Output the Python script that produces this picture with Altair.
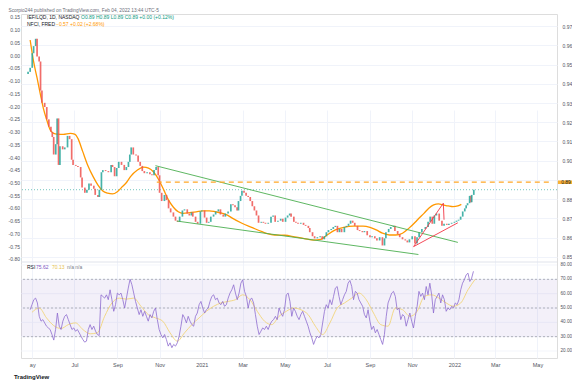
import altair as alt
import pandas as pd

W, H, TOP = 536, 344, 248
FONT = "Liberation Sans"

# ---------------- data ----------------
candle_dates = [
    "2020-04-25", "2020-04-28", "2020-05-01", "2020-05-03", "2020-05-06", "2020-05-08", "2020-05-11", "2020-05-13", "2020-05-15", "2020-05-19",
    "2020-05-22", "2020-05-25", "2020-05-28", "2020-05-30", "2020-06-01", "2020-06-04", "2020-06-06", "2020-06-08", "2020-06-10", "2020-06-14",
    "2020-06-17", "2020-06-21", "2020-06-24", "2020-06-27", "2020-06-29", "2020-07-03", "2020-07-06", "2020-07-10", "2020-07-12", "2020-07-16",
    "2020-07-19", "2020-07-22", "2020-07-25", "2020-07-29", "2020-07-31", "2020-08-04", "2020-08-06", "2020-08-09", "2020-08-11", "2020-08-15",
    "2020-08-19", "2020-08-23", "2020-08-25", "2020-08-28", "2020-08-31", "2020-09-03", "2020-09-07", "2020-09-11", "2020-09-14", "2020-09-17",
    "2020-09-19", "2020-09-21", "2020-09-24", "2020-09-28", "2020-10-01", "2020-10-04", "2020-10-07", "2020-10-10", "2020-10-14", "2020-10-18",
    "2020-10-21", "2020-10-24", "2020-10-27", "2020-10-30", "2020-11-01", "2020-11-04", "2020-11-08", "2020-11-11", "2020-11-14", "2020-11-17",
    "2020-11-21", "2020-11-24", "2020-11-27", "2020-11-30", "2020-12-04", "2020-12-07", "2020-12-11", "2020-12-14", "2020-12-17", "2020-12-19",
    "2020-12-23", "2020-12-26", "2020-12-30", "2021-01-01", "2021-01-05", "2021-01-08", "2021-01-11", "2021-01-14", "2021-01-18", "2021-01-21",
    "2021-01-25", "2021-01-28", "2021-02-01", "2021-02-04", "2021-02-08", "2021-02-12", "2021-02-15", "2021-02-18", "2021-02-21", "2021-02-23",
    "2021-02-26", "2021-02-28", "2021-03-03", "2021-03-06", "2021-03-09", "2021-03-12", "2021-03-15", "2021-03-18", "2021-03-21", "2021-03-24",
    "2021-03-28", "2021-03-31", "2021-04-03", "2021-04-07", "2021-04-11", "2021-04-14", "2021-04-17", "2021-04-21", "2021-04-25", "2021-04-28",
    "2021-05-02", "2021-05-05", "2021-05-08", "2021-05-10", "2021-05-14", "2021-05-17", "2021-05-20", "2021-05-24", "2021-05-28", "2021-05-31",
    "2021-06-04", "2021-06-06", "2021-06-10", "2021-06-13", "2021-06-17", "2021-06-21", "2021-06-24", "2021-06-27", "2021-06-30", "2021-07-03",
    "2021-07-07", "2021-07-10", "2021-07-13", "2021-07-16", "2021-07-19", "2021-07-22", "2021-07-26", "2021-07-29", "2021-08-01", "2021-08-04",
    "2021-08-07", "2021-08-10", "2021-08-14", "2021-08-17", "2021-08-21", "2021-08-24", "2021-08-28", "2021-09-01", "2021-09-04", "2021-09-08",
    "2021-09-11", "2021-09-15", "2021-09-19", "2021-09-22", "2021-09-24", "2021-09-28", "2021-10-01", "2021-10-05", "2021-10-07", "2021-10-11",
    "2021-10-14", "2021-10-18", "2021-10-22", "2021-10-25", "2021-10-28", "2021-11-01", "2021-11-05", "2021-11-08", "2021-11-11", "2021-11-15",
    "2021-11-20", "2021-11-24", "2021-11-27", "2021-11-30", "2021-12-03", "2021-12-06", "2021-12-10", "2021-12-14", "2021-12-17", "2021-12-21",
    "2021-12-24", "2021-12-28", "2022-01-01", "2022-01-04", "2022-01-07", "2022-01-10", "2022-01-13", "2022-01-16", "2022-01-18", "2022-01-20",
    "2022-01-23", "2022-01-25", "2022-01-26", "2022-01-29",
]
candle_close = [
    0.9462, 0.9483, 0.9559, 0.9596, 0.9634, 0.9542, 0.9516, 0.9365, 0.9301, 0.9279,
    0.9215, 0.9177, 0.9150, 0.9123, 0.9032, 0.9086, 0.9220, 0.8978, 0.9075, 0.9059,
    0.9069, 0.9129, 0.9112, 0.9005, 0.8978, 0.8973, 0.8967, 0.8913, 0.8860, 0.8833,
    0.8849, 0.8881, 0.8870, 0.8854, 0.8822, 0.8811, 0.8849, 0.8940, 0.8951, 0.8946,
    0.8940, 0.8978, 0.8967, 0.8919, 0.8962, 0.8994, 0.8978, 0.8951, 0.8967, 0.8994,
    0.9032, 0.9069, 0.9032, 0.9027, 0.8994, 0.8973, 0.8946, 0.8935, 0.8940, 0.8930,
    0.8924, 0.8951, 0.8967, 0.8924, 0.8833, 0.8790, 0.8822, 0.8795, 0.8752, 0.8731,
    0.8709, 0.8688, 0.8682, 0.8709, 0.8741, 0.8747, 0.8725, 0.8715, 0.8731, 0.8709,
    0.8682, 0.8672, 0.8736, 0.8741, 0.8704, 0.8677, 0.8682, 0.8709, 0.8720, 0.8736,
    0.8747, 0.8720, 0.8709, 0.8725, 0.8736, 0.8774, 0.8768, 0.8758, 0.8741, 0.8790,
    0.8817, 0.8844, 0.8833, 0.8817, 0.8811, 0.8790, 0.8763, 0.8741, 0.8715, 0.8677,
    0.8682, 0.8677, 0.8672, 0.8677, 0.8709, 0.8715, 0.8682, 0.8688, 0.8698, 0.8682,
    0.8704, 0.8715, 0.8725, 0.8709, 0.8682, 0.8677, 0.8672, 0.8677, 0.8666, 0.8661,
    0.8650, 0.8628, 0.8607, 0.8596, 0.8602, 0.8607, 0.8591, 0.8607, 0.8628, 0.8639,
    0.8645, 0.8655, 0.8661, 0.8628, 0.8645, 0.8628, 0.8655, 0.8661, 0.8672, 0.8688,
    0.8677, 0.8661, 0.8639, 0.8634, 0.8628, 0.8634, 0.8612, 0.8602, 0.8607, 0.8596,
    0.8585, 0.8602, 0.8559, 0.8596, 0.8628, 0.8645, 0.8655, 0.8661, 0.8634, 0.8618,
    0.8602, 0.8591, 0.8585, 0.8575, 0.8591, 0.8607, 0.8569, 0.8602, 0.8628, 0.8645,
    0.8655, 0.8682, 0.8709, 0.8672, 0.8715, 0.8725, 0.8688, 0.8661, 0.8672, 0.8666,
    0.8672, 0.8677, 0.8682, 0.8688, 0.8693, 0.8709, 0.8736, 0.8752, 0.8768, 0.8779,
    0.8817, 0.8784, 0.8822, 0.8849,
]
first_open = 0.9451

nfci_dates = [
    "2020-04-28", "2020-05-03", "2020-05-08", "2020-05-13", "2020-05-17", "2020-05-22", "2020-05-27", "2020-06-01",
    "2020-06-06", "2020-06-15", "2020-06-25", "2020-07-02", "2020-07-06", "2020-07-13", "2020-07-20", "2020-07-28",
    "2020-08-04", "2020-08-11", "2020-08-18", "2020-08-25", "2020-09-01", "2020-09-08", "2020-09-15", "2020-09-20",
    "2020-09-30", "2020-10-09", "2020-10-16", "2020-10-23", "2020-10-31", "2020-11-07", "2020-11-14", "2020-11-21",
    "2020-11-28", "2020-12-05", "2020-12-15", "2020-12-24", "2021-01-02", "2021-01-12", "2021-01-21", "2021-01-31",
    "2021-02-07", "2021-02-14", "2021-02-28", "2021-03-14", "2021-03-29", "2021-04-07", "2021-04-16", "2021-05-01",
    "2021-05-15", "2021-05-29", "2021-06-12", "2021-06-22", "2021-07-01", "2021-07-13", "2021-07-25", "2021-08-08",
    "2021-08-22", "2021-09-01", "2021-09-10", "2021-09-19", "2021-09-29", "2021-10-08", "2021-10-18", "2021-10-27",
    "2021-11-06", "2021-11-10", "2021-11-18", "2021-11-25", "2021-12-02", "2021-12-09", "2021-12-16", "2021-12-23",
    "2021-12-30", "2022-01-06", "2022-01-11",
]
nfci_values = [
    0.059, -0.026, -0.090, -0.157, -0.208, -0.255, -0.294, -0.307,
    -0.310, -0.311, -0.307, -0.311, -0.327, -0.379, -0.431, -0.477,
    -0.510, -0.533, -0.542, -0.545, -0.536, -0.517, -0.497, -0.477,
    -0.451, -0.440, -0.444, -0.458, -0.490, -0.529, -0.569, -0.597,
    -0.615, -0.621, -0.618, -0.615, -0.611, -0.611, -0.615, -0.621,
    -0.628, -0.640, -0.660, -0.676, -0.693, -0.702, -0.706, -0.707,
    -0.713, -0.720, -0.726, -0.723, -0.706, -0.686, -0.676, -0.671,
    -0.671, -0.676, -0.686, -0.699, -0.706, -0.706, -0.699, -0.680,
    -0.654, -0.642, -0.621, -0.601, -0.588, -0.584, -0.588, -0.592,
    -0.595, -0.592, -0.586,
]

rsi_start, rsi_step = "2020-04-28", "63h"
rsi_values = [
    48.8, 52.3, 55.8, 56.9, 53.5, 44.2, 40.8, 41.9, 39.6, 37.3, 36.1, 35.0, 31.5, 27.6, 35.0, 46.5, 37.3, 35.0, 40.8, 44.2,
    45.4, 41.9, 38.4, 35.0, 36.1, 33.8, 35.0, 32.7, 30.3, 28.0, 26.2, 26.9, 35.0, 38.4, 35.0, 37.3, 33.8, 31.5, 30.8, 59.2,
    58.1, 56.9, 59.2, 55.8, 62.7, 55.8, 47.7, 52.3, 60.4, 59.2, 60.4, 55.8, 50.0, 56.9, 63.9, 70.1, 66.2, 60.4, 54.6, 50.0,
    45.4, 48.8, 44.2, 47.7, 44.2, 40.8, 45.4, 43.1, 47.7, 50.0, 41.9, 35.0, 31.5, 29.2, 31.5, 28.0, 23.4, 25.7, 22.3, 24.6,
    23.4, 25.7, 30.3, 37.3, 45.4, 43.1, 39.6, 44.2, 40.8, 38.4, 37.3, 44.2, 46.5, 52.3, 54.6, 50.0, 46.5, 48.8, 50.0, 54.6,
    58.1, 59.2, 55.8, 56.9, 53.5, 52.3, 54.6, 51.2, 52.3, 56.9, 60.4, 62.7, 66.2, 60.4, 55.8, 60.4, 67.3, 69.7, 61.6, 58.1,
    50.0, 55.8, 56.9, 53.5, 45.4, 37.3, 31.5, 33.8, 36.1, 35.0, 37.3, 35.0, 38.4, 40.8, 41.9, 44.2, 41.9, 50.0, 46.5, 44.2,
    48.8, 59.2, 60.4, 54.6, 44.2, 50.0, 47.7, 44.2, 41.9, 45.4, 47.7, 44.2, 40.8, 37.3, 32.7, 29.2, 24.6, 28.0, 30.3, 29.2,
    31.5, 39.6, 47.7, 52.3, 50.0, 55.8, 52.3, 58.1, 63.9, 65.0, 58.1, 52.3, 55.8, 59.2, 61.6, 67.3, 69.2, 65.0, 55.8, 61.6,
    60.4, 55.8, 53.5, 51.2, 45.4, 43.1, 48.8, 40.8, 35.0, 37.3, 32.7, 35.0, 31.5, 28.0, 24.6, 31.5, 44.2, 53.5, 56.9, 60.4,
    61.6, 58.1, 48.8, 50.0, 41.9, 45.4, 44.2, 37.3, 41.9, 46.5, 40.8, 36.1, 44.2, 51.2, 61.6, 58.1, 60.4, 55.8, 65.0, 59.2,
    67.3, 59.2, 46.5, 55.8, 58.1, 60.4, 53.5, 59.2, 55.8, 47.7, 50.0, 48.8, 51.2, 50.0, 53.5, 52.3, 55.8, 62.7, 67.3, 69.7,
    73.1, 74.3, 68.5, 70.8, 75.6,
]
rsi_ma_start, rsi_ma_step = "2020-04-30 15:00", "252h"
rsi_ma_values = [
    47.0, 50.0, 43.1, 37.7, 35.7, 38.4, 39.6, 35.0, 32.0, 32.7, 44.2, 53.5, 56.9, 56.2, 56.9, 51.2,
    45.4, 43.1, 40.8, 32.7, 26.9, 32.7, 38.4, 43.1, 47.7, 51.2, 53.5, 54.6, 55.8, 59.2, 55.8, 47.7,
    40.8, 38.4, 44.2, 47.7, 50.0, 48.8, 45.4, 37.3, 31.5, 39.6, 50.0, 53.5, 56.9, 60.4, 55.8, 46.5,
    38.4, 37.3, 50.0, 48.8, 44.2, 47.7, 58.1, 59.2, 56.9, 53.5, 51.2, 53.5, 62.7, 70.1,
]

green_dates = ["2020-10-26", "2022-01-06", "2020-11-26", "2021-11-10"]
green_prices = [0.8974, 0.8575, 0.8686, 0.8512]
green_group = ["upper", "upper", "lower", "lower"]

red_dates = ["2022-01-06", "2021-11-03", "2021-12-16", "2021-12-17"]
red_prices = [0.8677, 0.8553, 0.8779, 0.8693]

resistance_start, resistance_price = "2020-10-28", 0.8888

price_ticks = [0.85, 0.86, 0.87, 0.88, 0.89, 0.90, 0.91, 0.92, 0.93, 0.94, 0.95, 0.96, 0.97]
nfci_ticks = [0.15, 0.10, 0.05, 0.0, -0.05, -0.10, -0.15, -0.20, -0.25, -0.30, -0.35, -0.40,
              -0.45, -0.50, -0.55, -0.60, -0.65, -0.70, -0.75, -0.80]
rsi_ticks = [80, 70, 60, 50, 40, 30, 20]
rsi_bands = [70, 50, 30]

# ---------------- frames ----------------
candles = pd.DataFrame({
    "date": pd.to_datetime(candle_dates),
    "open": [first_open] + candle_close[:-1],
    "close": candle_close,
})
candles["dir"] = ["up" if c >= o else "down" for o, c in zip(candles["open"], candles["close"])]
last_price = candle_close[-1]

nfci = pd.DataFrame({"date": pd.to_datetime(nfci_dates), "v": nfci_values})
rsi = pd.DataFrame({"date": pd.date_range(rsi_start, periods=len(rsi_values), freq=rsi_step), "r": rsi_values})
rsi_ma = pd.DataFrame({"date": pd.date_range(rsi_ma_start, periods=len(rsi_ma_values), freq=rsi_ma_step), "r": rsi_ma_values})
green = pd.DataFrame({"date": pd.to_datetime(green_dates), "p": green_prices, "g": green_group})
red = pd.DataFrame({"date": pd.to_datetime(red_dates), "p": red_prices, "i": list(range(len(red_dates)))})

x_start = alt.DateTime(year=2020, month=4, date=22)
x_end = alt.DateTime(year=2022, month=5, date=22)
resist = pd.DataFrame({"date": pd.to_datetime([resistance_start]), "end": pd.to_datetime(["2022-05-22"]), "p": [resistance_price]})

# ---------------- scales / axes ----------------
TXT = "#50535e"
GRID = "#f0f3fa"
FS = 5
xscale = alt.Scale(domain=[x_start, x_end])
month_ticks = [alt.DateTime(year=y, month=m, date=1) for y, m in
               [(2020, 5), (2020, 7), (2020, 9), (2020, 11), (2021, 1), (2021, 3), (2021, 5),
                (2021, 7), (2021, 9), (2021, 11), (2022, 1), (2022, 3), (2022, 5)]]
xaxis = alt.Axis(values=month_ticks, grid=True, gridColor=GRID, domain=False, ticks=False,
                 labelFontSize=5.5, labelColor=TXT, labelPadding=4, labelFont=FONT, title=None,
                 labelExpr="month(datum.value)==0 ? timeFormat(datum.value,'%Y') : "
                           "(year(datum.value)==2020 && month(datum.value)==4 ? 'ay' : timeFormat(datum.value,'%b'))")


def X(field="date"):
    return alt.X(f"{field}:T", scale=xscale, axis=xaxis, title=None)


pscale = alt.Scale(domain=[0.8473, 0.9763], range=[TOP, 0], nice=False, zero=False)
nscale = alt.Scale(domain=[-0.8119, 0.1610], range=[TOP, 0], nice=False, zero=False)
rscale = alt.Scale(domain=[20, 80], range=[337, 251], nice=False, zero=False)

price_axis = alt.Axis(orient="right", values=price_ticks, grid=True, gridColor=GRID,
                      domain=False, ticks=False, labelFontSize=FS, labelColor=TXT, labelPadding=5,
                      labelFont=FONT, title=None,
                      labelExpr="abs(datum.value-0.89)<0.001 ? '' : format(datum.value,'.2f')")
nfci_axis = alt.Axis(orient="left", values=nfci_ticks, grid=False, domain=False, ticks=False,
                     labelFontSize=FS, labelColor=TXT, labelPadding=1.5, labelFont=FONT, title=None,
                     labelExpr="replace(format(datum.value,'.2f'), '\u2212', '-')")

# ---------------- layers ----------------
price_grid = alt.Chart(pd.DataFrame({"p": [last_price]})).mark_rule(
    color="#26a69a", strokeDash=[1, 2], strokeWidth=0.8, opacity=0.8
).encode(y=alt.Y("p:Q", scale=pscale, axis=price_axis))

rsi_grid = alt.Chart(pd.DataFrame({"r": rsi_ticks})).mark_rule(color=GRID, strokeWidth=0.8).encode(
    y=alt.Y("r:Q", scale=rscale, axis=None))

band = alt.Chart(pd.DataFrame({"lo": [30], "hi": [70]})).mark_rect(color="#7e57c2", opacity=0.09).encode(
    y=alt.Y("lo:Q", scale=rscale, axis=None), y2="hi:Q")

band_lines = alt.Chart(pd.DataFrame({"r": rsi_bands})).mark_rule(
    color="#9598a1", strokeDash=[2, 2], strokeWidth=0.7).encode(y=alt.Y("r:Q", scale=rscale, axis=None))

separator = alt.Chart(pd.DataFrame({"k": [0]})).mark_rule(color="#e0e3eb", strokeWidth=1).encode(
    y=alt.value(TOP))

candle_layer = alt.Chart(candles).mark_bar(width=1.7, opacity=0.85).encode(
    x=X(),
    y=alt.Y("open:Q", scale=pscale, axis=None),
    y2="close:Q",
    color=alt.Color("dir:N", scale=alt.Scale(domain=["up", "down"], range=["#26a69a", "#ef5350"]), legend=None),
)

nfci_layer = alt.Chart(nfci).mark_line(color="#ff9800", strokeWidth=1.3, interpolate="monotone").encode(
    x=X(), y=alt.Y("v:Q", scale=nscale, axis=nfci_axis))

green_layer = alt.Chart(green).mark_line(color="#4caf50", strokeWidth=0.9).encode(
    x=X(), y=alt.Y("p:Q", scale=pscale, axis=None), detail="g:N")

red_layer = alt.Chart(red).mark_line(color="#f23645", strokeWidth=0.9).encode(
    x=X(), y=alt.Y("p:Q", scale=pscale, axis=None), order="i:O")

resist_layer = alt.Chart(resist).mark_rule(color="#ffa726", strokeDash=[5, 4], strokeWidth=1.2).encode(
    x=X(), x2="end:T", y=alt.Y("p:Q", scale=pscale, axis=None))

resist_box = alt.Chart(resist).mark_point(
    shape="M-1,-0.22L1,-0.22L1,0.22L-1,0.22Z", size=256, filled=True, color="#f9b233", opacity=1
).encode(x=alt.value(W + 9), y=alt.Y("p:Q", scale=pscale, axis=None))

resist_text = alt.Chart(resist).mark_text(fontSize=FS, font=FONT, color="#131722").encode(
    x=alt.value(W + 9), y=alt.Y("p:Q", scale=pscale, axis=None), text=alt.Text("p:Q", format=".2f"))

rsi_ma_layer = alt.Chart(rsi_ma).mark_line(color="#f2d57a", strokeWidth=0.9, interpolate="monotone").encode(
    x=X(), y=alt.Y("r:Q", scale=rscale, axis=None))

rsi_layer = alt.Chart(rsi).mark_line(color="#8e6ccf", strokeWidth=0.8).encode(
    x=X(), y=alt.Y("r:Q", scale=rscale, axis=None))

rsi_labels = alt.Chart(pd.DataFrame({"r": rsi_ticks})).mark_text(
    align="left", baseline="middle", fontSize=4.6, font=FONT, color=TXT
).encode(x=alt.value(W + 3.5), y=alt.Y("r:Q", scale=rscale, axis=None), text=alt.Text("r:Q", format=".2f"))


def label(text, x, y, color, size=FS, weight="normal"):
    return alt.Chart(pd.DataFrame({"t": [text]})).mark_text(
        align="left", baseline="middle", fontSize=size, font=FONT, color=color, fontWeight=weight
    ).encode(x=alt.value(x), y=alt.value(y), text="t:N")


headers = [
    label("Scorpio244 published on TradingView.com, Feb 04, 2022 13:44 UTC-5", -12.5, -3.5, "#6a6d78", 4.8),
    label("IEF/LQD, 1D, NASDAQ", 6, 3, "#131722"),
    label("O0.89  H0.89  L0.89  C0.89  +0.00 (+0.12%)", 60, 3, "#089981"),
    label("NFCI, FRED", 6, 10, "#131722"),
    label("−0.57  +0.02 (+2.68%)", 35, 10, "#ff9800"),
    label("RSI", 6, 5 + TOP, "#131722"),
    label("75.62", 15, 5 + TOP, "#7e57c2"),
    label("70.13", 31, 5 + TOP, "#e8c34a"),
    label("n/a  n/a", 46, 5 + TOP, "#787b86"),
    label("TradingView", -7, H + 19, "#131722", 6, "bold"),
]

chart = alt.layer(
    price_grid, rsi_grid, band, band_lines, separator,
    nfci_layer, candle_layer, green_layer, red_layer, resist_layer,
    rsi_ma_layer, rsi_layer, rsi_labels, resist_box, resist_text, *headers
).resolve_scale(y="independent").properties(
    width=W, height=H,
    autosize=alt.AutoSizeParams(type="none"),
    padding={"left": 13, "top": 6, "right": 15, "bottom": 26},
).configure_view(stroke="#e0e3eb", strokeWidth=1).configure(background="white")

chart.save("out.html", embed_options={"renderer": "svg", "actions": False})
